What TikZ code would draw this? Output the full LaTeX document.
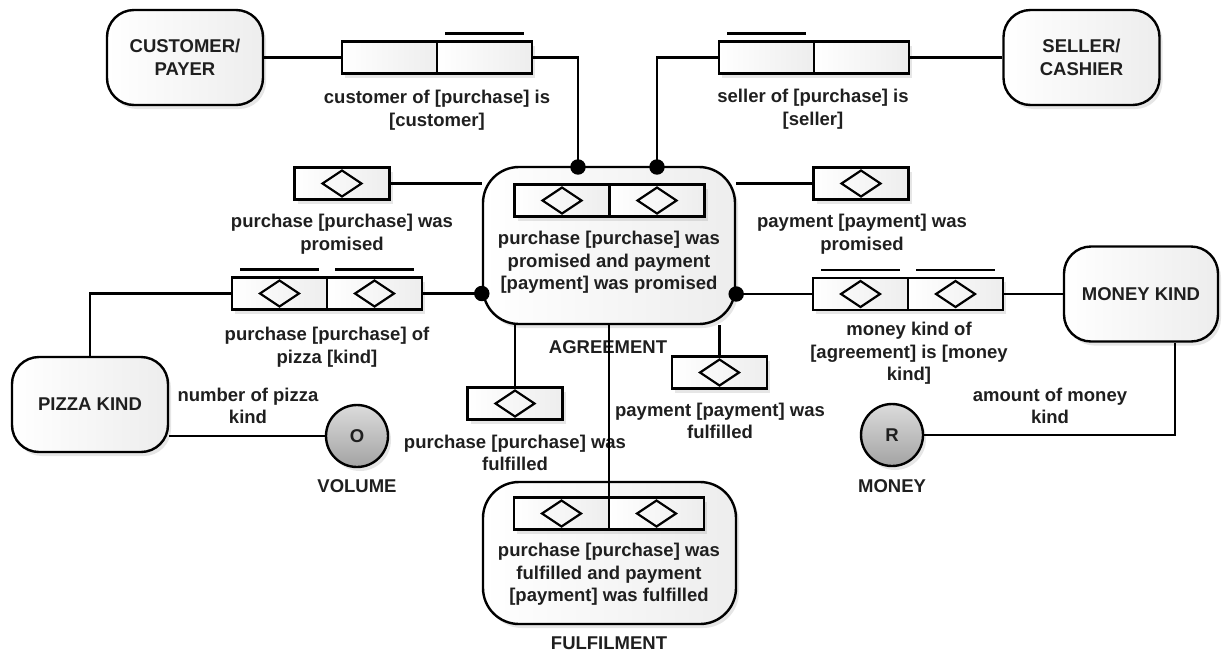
\documentclass[tikz,border=0pt]{standalone}
\usepackage{fontspec}
\setmainfont{Liberation Sans}
\usetikzlibrary{positioning,shadows}

\tikzset{
    objbox/.style={draw, rounded corners=27pt, minimum width=156pt,
        minimum height=95pt, inner sep=0pt, align=center,
        left color=white, right color=black!7,
        drop shadow={opacity=0.2, shadow xshift=3pt, shadow yshift=-4pt}},
    nestbox/.style={objbox, rounded corners=36pt},
    rolebox/.style={draw, minimum width=95pt, minimum height=32pt,
        inner sep=0pt, outer sep=0pt, left color=white, right color=black!7,
        drop shadow={opacity=0.2, shadow xshift=3pt, shadow yshift=-4pt}},
    unibox/.style={rolebox, path picture={
        \draw[line width=2.2pt]
            ([xshift=-19.5pt]path picture bounding box.center)
            -- ([yshift=13pt]path picture bounding box.center)
            -- ([xshift=19.5pt]path picture bounding box.center)
            -- ([yshift=-13pt]path picture bounding box.center)
            -- cycle;}},
    valcirc/.style={draw, circle, minimum size=62pt, inner sep=0pt,
        top color=black!14, bottom color=black!36,
        drop shadow={opacity=0.2, shadow xshift=3pt, shadow yshift=-4pt}},
    lbl/.style={align=center, inner sep=0pt}
}

\begin{document}
\begin{tikzpicture}[x=1pt, y=-1pt, line width=2.4pt,
        every node/.style={font=\bfseries\fontsize{18.5}{22.5}\selectfont, text=black!88}]
        \useasboundingbox (0,0) rectangle (1222,654);

        % object types
        \node[objbox] (cust) at (185,57.5) {CUSTOMER/\\PAYER};
        \node[objbox] (sell) at (1081.5,57.5) {SELLER/\\CASHIER};
        \node[objbox] (pizza) at (90,404.5) {PIZZA KIND};
        \node[objbox, minimum width=154pt] (mkind) at (1141,294) {MONEY KIND};

        % value types
        \node[valcirc] (vol) at (357,436) {O};
        \node[valcirc] (mon) at (892,435) {R};
        \node[lbl] (volname) at (357,486) {VOLUME};
        \node[lbl] (monname) at (892,486) {MONEY};

        % nested fact types
        \node[nestbox, minimum width=252pt, minimum height=157pt] (agr) at (609,245.5) {};
        \node[unibox] (a1) at (562,200.5) {};
        \node[unibox, right=0pt of a1] (a2) {};
        \node[lbl] (lagr) at (609,262.5) {purchase [purchase] was\\promised and payment\\{[payment]} was promised};
        \node[lbl] (agrname) at (608,347) {AGREEMENT};

        \node[nestbox, minimum width=253pt, minimum height=142pt] (ful) at (609.5,553) {};
        \node[unibox] (f1) at (561.5,513.5) {};
        \node[unibox, right=0pt of f1] (f2) {};
        \node[lbl] (lful) at (609,574.5) {purchase [purchase] was\\fulfilled and payment\\{[payment]} was fulfilled};
        \node[lbl] (fulname) at (609,643) {FULFILMENT};

        % binary fact types
        \node[rolebox] (tl1) at (389.5,57.5) {};
        \node[rolebox, right=0pt of tl1] (tl2) {};
        \node[lbl] (lcust) at (437,110) {customer of [purchase] is\\{[customer]}};

        \node[rolebox] (tr1) at (766.5,57.5) {};
        \node[rolebox, right=0pt of tr1] (tr2) {};
        \node[lbl] (lsell) at (813,109) {seller of [purchase] is\\{[seller]}};

        \node[unibox] (pk1) at (279.5,293.5) {};
        \node[unibox, right=0pt of pk1] (pk2) {};
        \node[lbl] (lpk) at (327,347) {purchase [purchase] of\\pizza [kind]};

        \node[unibox] (mk1) at (860.5,294) {};
        \node[unibox, right=0pt of mk1] (mk2) {};
        \node[lbl] (lmk) at (909,353.5) {money kind of\\{[agreement]} is [money\\kind]};

        % unary fact types
        \node[unibox] (pp) at (342,183.5) {};
        \node[lbl] (lpp) at (342,234) {purchase [purchase] was\\promised};
        \node[unibox] (yp) at (861,183.5) {};
        \node[lbl] (lyp) at (862,234) {payment [payment] was\\promised};
        \node[unibox] (pf) at (515,403.5) {};
        \node[lbl] (lpf) at (515,453) {purchase [purchase] was\\fulfilled};
        \node[unibox] (yf) at (719.5,372.5) {};
        \node[lbl] (lyf) at (720,421) {payment [payment] was\\fulfilled};

        % other labels
        \node[lbl] (lnum) at (248,406) {number of pizza\\kind};
        \node[lbl] (lamt) at (1050,406) {amount of money\\kind};

        % uniqueness bars
        \foreach \c in {tl2,tr1,pk1,pk2,mk1,mk2}
            \draw ([xshift=8pt,yshift=8pt]\c.north west)
                -- ([xshift=-8pt,yshift=8pt]\c.north east);

        % connectors
        \coordinate (d1) at (578,167);
        \coordinate (d2) at (657,167);
        \coordinate (d3) at (agr.west |- pk2.east);
        \coordinate (d4) at (agr.east |- mk1.west);

        \draw (cust.east) -- (cust.east -| tl1.west);
        \draw (tl2.east) -| (d1);
        \draw (sell.west) -- (sell.west -| tr2.east);
        \draw (tr1.west) -| (d2);
        \draw (pp.east) -- (pp.east -| agr.west);
        \draw (yp.west) -- (yp.west -| agr.east);
        \draw (pk2.east) -- (d3);
        \draw (pk1.west) -| (pizza.north);
        \draw (mk1.west) -- (d4);
        \draw (mk2.east) -- (mk2.east -| mkind.west);
        \draw (mon.east) -| ([xshift=34pt]mkind.south);
        \draw (vol.west) -- (vol.west -| pizza.east);
        \draw (pf.north) -- (pf.north |- agr.south);
        \draw (yf.north) -- (yf.north |- agr.south);
        \draw (agr.south) -- (f1.north east);

        % role dots
        \foreach \d in {d1,d2,d3,d4}
            \filldraw[black] (\d) circle (6.5pt);
    \end{tikzpicture}
\end{document}
